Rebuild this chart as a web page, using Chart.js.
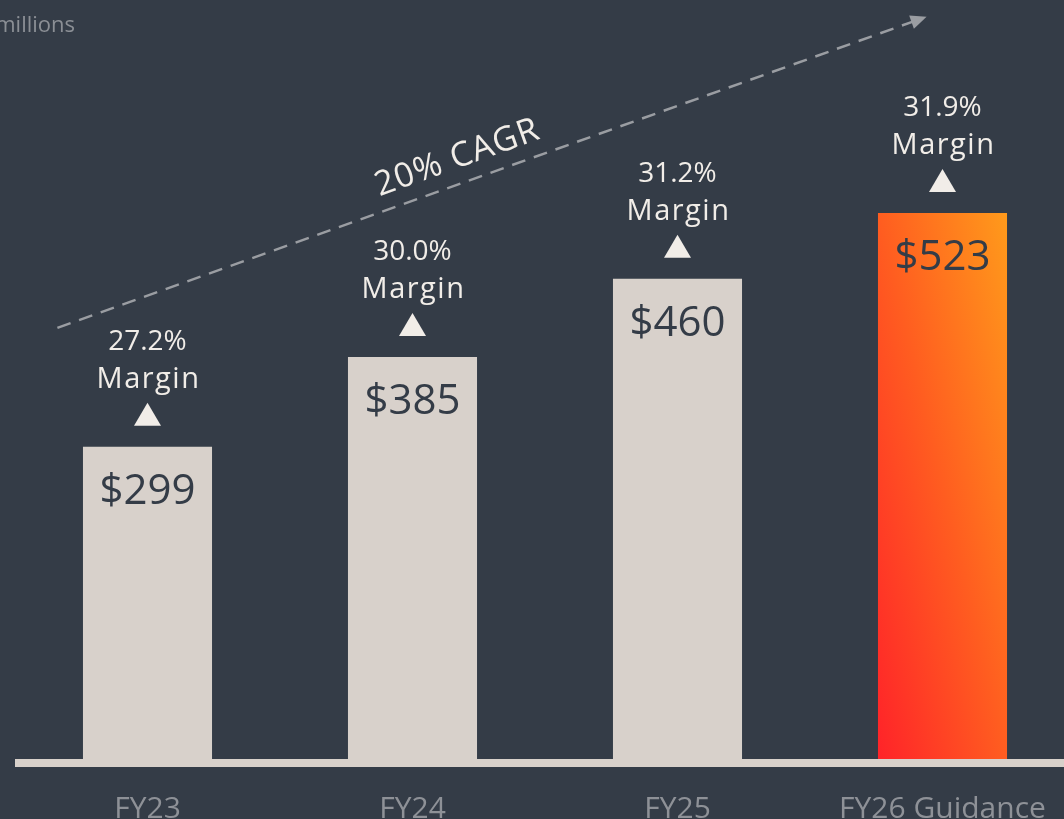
<!DOCTYPE html>
<html>
<head>
<meta charset="UTF-8" />
<title>Revenue growth</title>
<script src="https://cdn.jsdelivr.net/npm/chart.js"></script>
<style>
html, body { margin:0; padding:0; background:#343c47; overflow:hidden; width:1064px; height:819px; }
#wrap { position:absolute; left:0; top:0; width:1100px; height:851px; }
</style>
</head>
<body>
<div id="wrap"><canvas id="chart"></canvas></div>

<script>
const categories = ['FY23', 'FY24', 'FY25', 'FY26 Guidance'];
const values = [299, 385, 460, 523];
const valueLabels = ['$299', '$385', '$460', '$523'];
const margins = ['27.2%', '30.0%', '31.2%', '31.9%'];
const cagrLabel = '20% CAGR';
const unitLabel = '$ in millions';
// trend arrow ends, in [category index, value] units
const trendStart = [-0.34, 413];
const trendEnd = [2.94, 711];

const FONT = '"Open Sans", sans-serif';
const BEIGE = '#d8d1cb';
const BG = '#343c47';

function guidanceFill(c) {
  const chart = c.chart;
  if (c.dataIndex !== 3) return BEIGE;
  if (!chart.chartArea) return '#ff5a20';
  const x = chart.scales.x, y = chart.scales.y;
  const cx = x.getPixelForValue(3);
  const w = (x.getPixelForValue(1) - x.getPixelForValue(0)) * 0.487;
  const top = y.getPixelForValue(values[3]), bot = y.getPixelForValue(0);
  const h = bot - top, cy = (top + bot) / 2;
  const len = 2 * w * h / Math.sqrt(w * w + h * h);
  const n = Math.sqrt(w * w + h * h);
  const ux = h / n, uy = -w / n;
  const g = chart.ctx.createLinearGradient(cx - ux * len / 2, cy - uy * len / 2, cx + ux * len / 2, cy + uy * len / 2);
  g.addColorStop(0, '#ff2329');
  g.addColorStop(0.5, '#ff5d20');
  g.addColorStop(1, '#ff9a1b');
  return g;
}

const decor = {
  id: 'decor',
  beforeDatasetsDraw(chart) {
    const { ctx, chartArea } = chart;
    ctx.save();
    ctx.fillStyle = BEIGE;
    ctx.fillRect(chartArea.left, chartArea.bottom, 1100 - chartArea.left, 8);
    ctx.restore();
  },
  afterDatasetsDraw(chart) {
    const { ctx } = chart;
    const x = chart.scales.x, y = chart.scales.y;
    const meta = chart.getDatasetMeta(0);
    ctx.save();
    ctx.textAlign = 'center';
    ctx.textBaseline = 'middle';
    meta.data.forEach((bar, i) => {
      ctx.fillStyle = BG;
      ctx.font = '42px ' + FONT;
      ctx.letterSpacing = '0px';
      ctx.fillText(valueLabels[i], bar.x, bar.y + 45);
      ctx.fillStyle = '#f1ede8';
      ctx.beginPath();
      ctx.moveTo(bar.x - 13.5, bar.y - 21);
      ctx.lineTo(bar.x + 13.5, bar.y - 21);
      ctx.lineTo(bar.x, bar.y - 44);
      ctx.closePath();
      ctx.fill();
      ctx.font = '28px ' + FONT;
      ctx.fillText(margins[i], bar.x, bar.y - 105);
      ctx.font = '29px ' + FONT;
      ctx.letterSpacing = '1.5px';
      ctx.fillText('Margin', bar.x + 1, bar.y - 67);
      ctx.letterSpacing = '0px';
    });

    // trend arrow
    const step = x.getPixelForValue(1) - x.getPixelForValue(0);
    const x0 = x.getPixelForValue(0) + trendStart[0] * step;
    const x1 = x.getPixelForValue(0) + trendEnd[0] * step;
    const y0 = y.getPixelForValue(trendStart[1]);
    const y1 = y.getPixelForValue(trendEnd[1]);
    const ang = Math.atan2(y1 - y0, x1 - x0);
    ctx.strokeStyle = '#9a9da2';
    ctx.fillStyle = '#9a9da2';
    ctx.lineWidth = 2.5;
    ctx.setLineDash([14, 9]);
    ctx.beginPath();
    ctx.moveTo(x0, y0);
    ctx.lineTo(x1 - 12 * Math.cos(ang), y1 - 12 * Math.sin(ang));
    ctx.stroke();
    ctx.setLineDash([]);
    ctx.beginPath();
    ctx.moveTo(x1, y1);
    ctx.lineTo(x1 - 16 * Math.cos(ang) + 7 * Math.sin(ang), y1 - 16 * Math.sin(ang) - 7 * Math.cos(ang));
    ctx.lineTo(x1 - 16 * Math.cos(ang) - 7 * Math.sin(ang), y1 - 16 * Math.sin(ang) + 7 * Math.cos(ang));
    ctx.closePath();
    ctx.fill();

    // CAGR label, riding above the line
    const t = 0.47;
    const lx = x0 + (x1 - x0) * t, ly = y0 + (y1 - y0) * t;
    ctx.translate(lx + 25 * Math.sin(ang), ly - 25 * Math.cos(ang));
    ctx.rotate(ang);
    ctx.fillStyle = '#f1ede8';
    ctx.font = '34px ' + FONT;
    ctx.letterSpacing = '1px';
    ctx.fillText(cagrLabel, 0, 0);
    ctx.letterSpacing = '0px';
    ctx.restore();

    ctx.save();
    ctx.fillStyle = '#8b8f95';
    ctx.font = '22px ' + FONT;
    ctx.textAlign = 'right';
    ctx.textBaseline = 'middle';
    ctx.fillText(unitLabel, 75, 26);
    ctx.restore();
  }
};

new Chart(document.getElementById('chart'), {
  type: 'bar',
  data: {
    labels: categories,
    datasets: [{
      data: values,
      backgroundColor: guidanceFill,
      borderWidth: 0,
      categoryPercentage: 1,
      barPercentage: 0.487
    }]
  },
  options: {
    responsive: true,
    maintainAspectRatio: false,
    animation: false,
    layout: { padding: { left: 15, right: 25, top: 0, bottom: 0 } },
    plugins: { legend: { display: false }, tooltip: { enabled: false } },
    scales: {
      x: {
        grid: { display: false },
        border: { display: false },
        ticks: { color: '#8e9197', font: { family: FONT, size: 30 }, padding: 24, maxRotation: 0 }
      },
      y: { display: false, min: 0, max: 727 }
    }
  },
  plugins: [decor]
});
</script>
</body>
</html>
